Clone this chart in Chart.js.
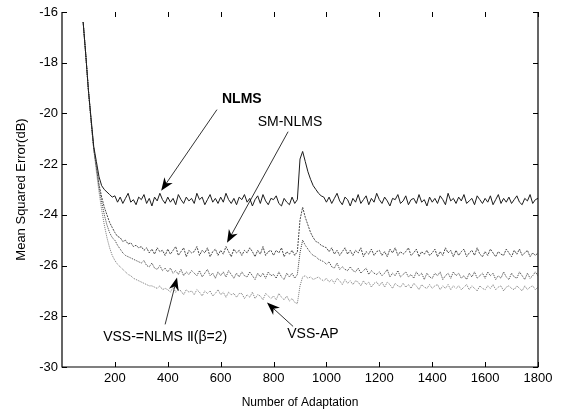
<!DOCTYPE html>
<html>
<head>
<meta charset="utf-8">
<script src="https://cdn.jsdelivr.net/npm/chart.js@4"></script>
<style>
  html, body { margin: 0; padding: 0; background: #fff; }
  canvas { display: block; }
</style>
</head>
<body>
<canvas id="mse" width="563" height="410"></canvas>
<script>
// sampling grid of the curves (iterations)
const startIter = 80;
const iterStep = 10;

const xTicks = [200, 400, 600, 800, 1000, 1200, 1400, 1600, 1800];
const yTicks = [-30, -28, -26, -24, -22, -20, -18, -16];

// MSE in dB, one value every 10 iterations from 80 to 1800
const nlms = [
  -16.4, -17.7,
  -19.1, -20.2, -21.3, -21.9, -22.5, -22.85, -23.0, -23.1, -23.2, -23.3,
  -23.25, -23.5, -23.3, -23.55, -23.35, -23.15, -23.5, -23.4, -23.6, -23.3,
  -23.4, -23.2, -23.55, -23.35, -23.65, -23.3, -23.45, -23.15, -23.4, -23.55,
  -23.3, -23.5, -23.35, -23.6, -23.2, -23.4, -23.55, -23.3, -23.45, -23.35,
  -23.55, -23.15, -23.4, -23.3, -23.6, -23.4, -23.2, -23.5, -23.35, -23.55,
  -23.3, -23.5, -23.15, -23.4, -23.55, -23.35, -23.6, -23.3, -23.4, -23.2,
  -23.5, -23.35, -23.65, -23.4, -23.25, -23.55, -23.2, -23.45, -23.6, -23.35,
  -23.4, -23.25, -23.55, -23.65, -23.35, -23.5, -23.6, -23.3, -23.55, -23.4,
  -21.8, -21.5, -21.9, -22.3, -22.6, -22.85, -23.0, -23.15, -23.25, -23.3,
  -23.5, -23.3, -23.55, -23.35, -23.15, -23.45, -23.6, -23.3, -23.4, -23.65,
  -23.35, -23.5, -23.2, -23.55, -23.4, -23.25, -23.6, -23.35, -23.5, -23.15,
  -23.4, -23.55, -23.3, -23.45, -23.65, -23.35, -23.4, -23.2, -23.55, -23.45,
  -23.25, -23.6, -23.4, -23.35, -23.55, -23.2, -23.5, -23.4, -23.65, -23.3,
  -23.5, -23.35, -23.55, -23.25, -23.4, -23.6, -23.15, -23.45, -23.35, -23.55,
  -23.3, -23.45, -23.2, -23.55, -23.45, -23.35, -23.6, -23.25, -23.4, -23.55,
  -23.35, -23.5, -23.25, -23.6, -23.4, -23.2, -23.55, -23.35, -23.5, -23.3,
  -23.55, -23.4, -23.25, -23.5, -23.6, -23.35, -23.45, -23.2, -23.55, -23.4,
  -23.35
];

const smNlms = [
  -16.4, -17.7,
  -19.1, -20.3, -21.4, -22.1, -22.8, -23.3, -23.7, -24.0, -24.3, -24.5,
  -24.7, -24.85, -24.9, -25.05, -25.0, -25.15, -25.1, -25.25, -25.2, -25.3,
  -25.25, -25.4, -25.3, -25.5, -25.35, -25.55, -25.3, -25.45, -25.4, -25.6,
  -25.35, -25.55, -25.4, -25.25, -25.6, -25.45, -25.3, -25.65, -25.4, -25.5,
  -25.45, -25.25, -25.6, -25.4, -25.5, -25.3, -25.65, -25.45, -25.35, -25.6,
  -25.4, -25.55, -25.25, -25.45, -25.65, -25.35, -25.5, -25.4, -25.6, -25.4,
  -25.5, -25.3, -25.45, -25.65, -25.4, -25.55, -25.25, -25.6, -25.45, -25.4,
  -25.6, -25.4, -25.5, -25.3, -25.65, -25.45, -25.55, -25.4, -25.6, -25.45,
  -24.2, -23.7, -24.1, -24.4, -24.7, -24.9, -25.05, -25.1, -25.2, -25.25,
  -25.3, -25.45, -25.3, -25.55, -25.4, -25.6, -25.45, -25.3, -25.55, -25.4,
  -25.6, -25.4, -25.5, -25.3, -25.65, -25.45, -25.55, -25.35, -25.6, -25.45,
  -25.4, -25.6, -25.45, -25.65, -25.35, -25.5, -25.3, -25.6, -25.45, -25.55,
  -25.45, -25.3, -25.6, -25.5, -25.35, -25.65, -25.45, -25.55, -25.4, -25.6,
  -25.5, -25.35, -25.65, -25.45, -25.6, -25.3, -25.5, -25.4, -25.65, -25.4,
  -25.6, -25.45, -25.35, -25.65, -25.5, -25.4, -25.6, -25.3, -25.55, -25.65,
  -25.45, -25.6, -25.35, -25.5, -25.65, -25.45, -25.55, -25.6, -25.35, -25.5,
  -25.65, -25.4, -25.55, -25.35, -25.6, -25.5, -25.4, -25.65, -25.5, -25.6,
  -25.5
];

const vssNlms2 = [
  -16.4, -17.7,
  -19.1, -20.3, -21.4, -22.1, -22.9, -23.5, -24.0, -24.4, -24.7, -24.9,
  -25.0, -25.2, -25.35, -25.5, -25.6, -25.65, -25.7, -25.75, -25.8, -25.85,
  -25.9, -25.8, -26.0, -26.05, -25.9, -26.1, -26.15, -26.0, -26.2, -26.1,
  -26.25, -26.1, -26.3, -26.2, -26.35, -26.15, -26.4, -26.25, -26.35, -26.2,
  -26.3, -26.4, -26.2, -26.45, -26.3, -26.15, -26.4, -26.3, -26.5, -26.25,
  -26.4, -26.25, -26.45, -26.2, -26.35, -26.5, -26.3, -26.45, -26.25, -26.4,
  -26.45, -26.25, -26.4, -26.55, -26.3, -26.45, -26.3, -26.5, -26.25, -26.4,
  -26.35, -26.5, -26.25, -26.45, -26.55, -26.3, -26.45, -26.3, -26.5, -26.35,
  -25.5, -25.0, -25.2, -25.35, -25.5, -25.6, -25.65, -25.75, -25.8, -25.85,
  -25.95, -25.85, -26.05, -26.1, -25.9, -26.15, -26.05, -26.15, -26.2, -26.05,
  -26.2, -26.25, -26.1, -26.3, -26.2, -26.1, -26.35, -26.2, -26.3, -26.35,
  -26.25, -26.4, -26.3, -26.15, -26.45, -26.3, -26.4, -26.2, -26.45, -26.35,
  -26.25, -26.45, -26.35, -26.5, -26.25, -26.4, -26.3, -26.55, -26.3, -26.45,
  -26.5, -26.3, -26.4, -26.25, -26.55, -26.4, -26.3, -26.5, -26.25, -26.4,
  -26.3, -26.5, -26.4, -26.55, -26.3, -26.45, -26.25, -26.5, -26.4, -26.3,
  -26.5, -26.25, -26.4, -26.3, -26.55, -26.4, -26.5, -26.25, -26.45, -26.55,
  -26.3, -26.45, -26.5, -26.25, -26.4, -26.55, -26.3, -26.5, -26.4, -26.25,
  -26.4
];

const vssAp = [
  -16.4, -17.7,
  -19.1, -20.3, -21.4, -22.3, -23.1, -23.8, -24.4, -24.9, -25.3, -25.6,
  -25.8, -25.95, -26.05, -26.15, -26.25, -26.35, -26.4, -26.5, -26.55, -26.6,
  -26.65, -26.7, -26.75, -26.8, -26.8, -26.85, -26.9, -26.8, -26.95, -26.9,
  -26.95, -27.05, -26.85, -27.05, -26.95, -27.0, -27.15, -26.95, -27.05, -27.0,
  -27.15, -26.95, -27.05, -27.2, -27.0, -27.1, -27.0, -27.2, -27.1, -26.95,
  -27.15, -27.05, -27.25, -27.05, -27.15, -27.1, -27.25, -27.1, -27.1, -27.3,
  -27.15, -27.25, -27.05, -27.3, -27.15, -27.2, -27.35, -27.1, -27.2, -27.3,
  -27.2, -27.35, -27.1, -27.25, -27.35, -27.2, -27.4, -27.3, -27.45, -27.5,
  -26.8, -26.45, -26.4, -26.5, -26.45, -26.55, -26.5, -26.45, -26.55, -26.6,
  -26.5, -26.65, -26.55, -26.7, -26.5, -26.6, -26.75, -26.55, -26.7, -26.6,
  -26.75, -26.6, -26.65, -26.8, -26.6, -26.75, -26.65, -26.85, -26.7, -26.65,
  -26.8, -26.65, -26.85, -26.65, -26.75, -26.9, -26.7, -26.8, -26.85, -26.7,
  -26.85, -26.75, -26.9, -26.7, -26.8, -26.95, -26.75, -26.85, -26.9, -26.75,
  -26.9, -26.8, -26.75, -26.95, -26.8, -26.9, -26.75, -26.95, -26.8, -26.9,
  -26.8, -26.95, -26.85, -26.75, -26.95, -26.8, -26.9, -27.0, -26.8, -26.9,
  -26.95, -26.8, -26.9, -26.75, -26.95, -26.85, -26.8, -27.0, -26.85, -26.8,
  -26.9, -26.95, -26.8, -26.9, -27.0, -26.8, -26.95, -26.85, -26.8, -26.95,
  -26.85
];

const seriesNames = ['NLMS', 'SM-NLMS', 'VSS-=NLMS Ⅱ(β=2)', 'VSS-AP'];

// labels with arrows, in data units: text centre, arrow tail, arrow tip
const notes = [
  { text: 'NLMS', bold: true, at: [680, -19.45], from: [586, -19.85], to: [375, -23.05] },
  { text: 'SM-NLMS', at: [862, -20.35], from: [855, -20.72], to: [624, -25.1] },
  { text: seriesNames[2], at: [390, -28.83], from: [390, -28.32], to: [435, -26.47] },
  { text: 'VSS-AP', at: [949, -28.72], from: [874, -28.4], to: [775, -27.46] }
];

const toPoints = arr => arr.map((v, i) => ({ x: startIter + i * iterStep, y: v }));

// frame with inward tick marks, like the old matlab figure
const framePlugin = {
  id: 'frame',
  afterDatasetsDraw(chart) {
    const { ctx, chartArea: a, scales: { x, y } } = chart;
    const tl = 5;
    ctx.save();
    ctx.strokeStyle = '#000';
    ctx.lineWidth = 1.2;
    ctx.beginPath();
    ctx.moveTo(a.left, a.top);
    ctx.lineTo(a.left, a.bottom);
    ctx.lineTo(a.right, a.bottom);
    ctx.lineTo(a.right, a.top);
    ctx.stroke();
    ctx.lineWidth = 1;
    ctx.beginPath();
    xTicks.forEach(v => {
      const px = Math.round(x.getPixelForValue(v)) + 0.5;
      ctx.moveTo(px, a.bottom); ctx.lineTo(px, a.bottom - tl);
      ctx.moveTo(px, a.top); ctx.lineTo(px, a.top + tl);
    });
    yTicks.forEach(v => {
      const py = Math.round(y.getPixelForValue(v)) + 0.5;
      ctx.moveTo(a.left, py); ctx.lineTo(a.left + tl, py);
      ctx.moveTo(a.right, py); ctx.lineTo(a.right - tl, py);
    });
    ctx.stroke();
    ctx.restore();
  }
};

const notesPlugin = {
  id: 'notes',
  afterDatasetsDraw(chart) {
    const { ctx, scales: { x, y } } = chart;
    ctx.save();
    notes.forEach(n => {
      const x1 = x.getPixelForValue(n.from[0]), y1 = y.getPixelForValue(n.from[1]);
      const x2 = x.getPixelForValue(n.to[0]), y2 = y.getPixelForValue(n.to[1]);
      const ang = Math.atan2(y2 - y1, x2 - x1);
      ctx.strokeStyle = '#000';
      ctx.lineWidth = 0.8;
      ctx.beginPath();
      ctx.moveTo(x1, y1);
      ctx.lineTo(x2 - 8 * Math.cos(ang), y2 - 8 * Math.sin(ang));
      ctx.stroke();
      // barbed head
      const len = 13, half = 5;
      const bx = x2 - len * Math.cos(ang), by = y2 - len * Math.sin(ang);
      const nx = -Math.sin(ang), ny = Math.cos(ang);
      ctx.fillStyle = '#000';
      ctx.beginPath();
      ctx.moveTo(x2, y2);
      ctx.lineTo(bx + nx * half, by + ny * half);
      ctx.lineTo(x2 - 9 * Math.cos(ang), y2 - 9 * Math.sin(ang));
      ctx.lineTo(bx - nx * half, by - ny * half);
      ctx.closePath();
      ctx.fill();

      ctx.font = (n.bold ? 'bold ' : '') + '14px "Liberation Sans", Arial, sans-serif';
      ctx.textAlign = 'center';
      ctx.textBaseline = 'middle';
      ctx.fillText(n.text, x.getPixelForValue(n.at[0]), y.getPixelForValue(n.at[1]));
    });
    ctx.restore();
  }
};

const whiteBg = {
  id: 'whiteBg',
  beforeDraw(chart) {
    const { ctx, width, height } = chart;
    ctx.save();
    ctx.fillStyle = '#fff';
    ctx.fillRect(0, 0, width, height);
    ctx.restore();
  }
};

const fam = '"Liberation Sans", Arial, sans-serif';

new Chart(document.getElementById('mse'), {
  type: 'line',
  data: {
    datasets: [
      { label: seriesNames[0], data: toPoints(nlms), borderColor: '#1c1c1c', borderWidth: 1 },
      { label: seriesNames[1], data: toPoints(smNlms), borderColor: '#4a4a4a', borderWidth: 1, borderDash: [2, 1] },
      { label: seriesNames[2], data: toPoints(vssNlms2), borderColor: '#404040', borderWidth: 1, borderDash: [1, 1] },
      { label: seriesNames[3], data: toPoints(vssAp), borderColor: '#7a7a7a', borderWidth: 1, borderDash: [1, 1] }
    ]
  },
  options: {
    responsive: false,
    animation: false,
    layout: { padding: { top: 12, right: 25, left: 0, bottom: 0 } },
    elements: { point: { radius: 0 }, line: { tension: 0 } },
    scales: {
      x: {
        type: 'linear',
        min: 0,
        max: 1800,
        afterBuildTicks: s => { s.ticks = xTicks.map(v => ({ value: v })); },
        afterFit: s => { s.height = 43; },
        grid: { display: false, drawTicks: false },
        border: { display: false },
        ticks: { color: '#000', font: { family: fam, size: 13 }, padding: 4, maxRotation: 0, callback: v => String(v) },
        title: { display: true, text: 'Number of Adaptation', color: '#000', font: { family: fam, size: 12 }, padding: { top: 6, bottom: 0 } }
      },
      y: {
        type: 'linear',
        min: -30,
        max: -16,
        afterBuildTicks: s => { s.ticks = yTicks.map(v => ({ value: v })); },
        afterFit: s => { s.width = 62; },
        grid: { display: false, drawTicks: false },
        border: { display: false },
        ticks: { color: '#000', font: { family: fam, size: 13 }, padding: 4, callback: v => String(v) },
        title: { display: true, text: 'Mean Squared Error(dB)', color: '#000', font: { family: fam, size: 13 }, padding: { top: 14, bottom: 0 } }
      }
    },
    plugins: {
      legend: { display: false },
      tooltip: { enabled: false }
    }
  },
  plugins: [whiteBg, framePlugin, notesPlugin]
});
</script>
</body>
</html>
